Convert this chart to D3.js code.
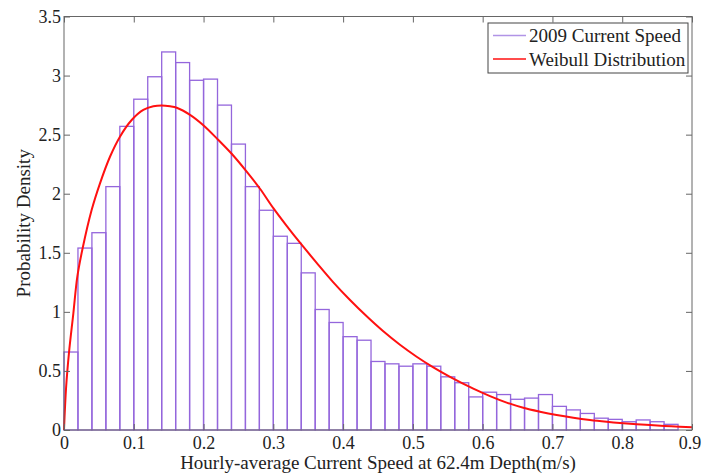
<!DOCTYPE html>
<html>
<head>
<meta charset="utf-8">
<script src="https://cdn.jsdelivr.net/npm/d3@7"></script>
<style>
  html, body { margin: 0; padding: 0; background: #fff; }
  svg text { font-family: "Liberation Serif", "Times New Roman", serif; fill: #222; }
</style>
</head>
<body>
<svg id="chart" width="702" height="476"></svg>
<script>
// Histogram bin edges (left edge of each 0.02 m/s bin)
const binStart = [0.00,0.02,0.04,0.06,0.08,0.10,0.12,0.14,0.16,0.18,0.20,0.22,0.24,0.26,0.28,0.30,
  0.32,0.34,0.36,0.38,0.40,0.42,0.44,0.46,0.48,0.50,0.52,0.54,0.56,0.58,0.60,0.62,0.64,0.66,0.68,
  0.70,0.72,0.74,0.76,0.78,0.80,0.82,0.84,0.86];
const binWidth = 0.02;
// Probability density of 2009 hourly current speed per bin
const density = [0.66,1.54,1.67,2.06,2.57,2.80,2.99,3.20,3.11,2.96,2.97,2.75,2.42,2.06,1.86,1.64,
  1.58,1.33,1.02,0.91,0.79,0.76,0.58,0.56,0.54,0.56,0.54,0.45,0.40,0.28,0.32,0.30,0.26,0.27,0.30,
  0.20,0.17,0.14,0.10,0.09,0.07,0.085,0.07,0.048];

// Fitted Weibull curve, sampled points (speed, density)
const weibullX = [0,0.003,0.0072,0.0134,0.0191,0.0267,0.0396,0.0516,0.0659,0.0802,0.097,0.1137,0.1280,
  0.1400,0.1520,0.1615,0.1806,0.1997,0.2212,0.2403,0.2618,0.2809,0.300,0.3191,0.3382,0.3621,0.386,
  0.4099,0.4338,0.4576,0.4815,0.5054,0.5293,0.5532,0.5866,0.6105,0.6344,0.6582,0.6821,0.706,0.7299,
  0.7538,0.7777,0.7968,0.84,0.87,0.90];
const weibullY = [0,0.36,0.657,0.988,1.298,1.538,1.862,2.088,2.313,2.483,2.624,2.709,2.740,
  2.747,2.740,2.728,2.668,2.580,2.455,2.338,2.187,2.042,1.878,1.728,1.585,1.415,1.250,
  1.100,0.962,0.835,0.721,0.620,0.530,0.450,0.350,0.287,0.232,0.188,0.155,0.127,0.104,
  0.085,0.070,0.060,0.042,0.031,0.023];

const xTicks = [0,0.1,0.2,0.3,0.4,0.5,0.6,0.7,0.8,0.9];
const yTicks = [0,0.5,1,1.5,2,2.5,3,3.5];
const seriesNames = ["2009 Current Speed", "Weibull Distribution"];

const serif = "'Liberation Serif', 'Times New Roman', serif";
const svg = d3.select("#chart");
const plot = { left: 64, right: 692, top: 16.5, bottom: 430 };

const x = d3.scaleLinear().domain([0, 0.9]).range([plot.left, plot.right]);
const y = d3.scaleLinear().domain([0, 3.5]).range([plot.bottom, plot.top]);

const barColor = "#9466dc";
const curveColor = "#ff1010";
const axisColor = "#666";

// Histogram bars (outlined, no fill)
svg.append("g").selectAll("rect")
  .data(binStart.map((b, i) => ({ b, v: density[i] })))
  .join("rect")
  .attr("x", d => x(d.b))
  .attr("y", d => y(d.v))
  .attr("width", d => x(d.b + binWidth) - x(d.b))
  .attr("height", d => y(0) - y(d.v))
  .attr("fill", "none")
  .attr("stroke", barColor)
  .attr("stroke-width", 1.3);

// Weibull curve
const line = d3.line()
  .x(d => x(d[0]))
  .y(d => y(d[1]))
  .curve(d3.curveCatmullRom.alpha(0.5));
svg.append("path")
  .datum(weibullX.map((v, i) => [v, weibullY[i]]))
  .attr("d", line)
  .attr("fill", "none")
  .attr("stroke", curveColor)
  .attr("stroke-width", 2);

// Axes: inward ticks on all four sides, box frame
const tickSize = 6;
const xBottom = d3.axisBottom(x).tickValues(xTicks).tickSizeInner(-tickSize).tickSizeOuter(0)
  .tickPadding(6).tickFormat(d3.format("~g"));
const xTop = d3.axisTop(x).tickValues(xTicks).tickSizeInner(-tickSize).tickSizeOuter(0).tickFormat("");
const yLeft = d3.axisLeft(y).tickValues(yTicks).tickSizeInner(-tickSize).tickSizeOuter(0)
  .tickPadding(3).tickFormat(d3.format("~g"));
const yRight = d3.axisRight(y).tickValues(yTicks).tickSizeInner(-tickSize).tickSizeOuter(0).tickFormat("");

function styleAxis(g) {
  g.attr("font-family", serif).attr("font-size", 18);
  g.select(".domain").remove();
  g.selectAll(".tick line").attr("stroke", axisColor);
  g.selectAll(".tick text").attr("fill", "#222");
}

const gxBottom = svg.append("g").attr("transform", `translate(0,${plot.bottom})`).call(xBottom).call(styleAxis);
// keep the last x tick label inside the canvas edge
gxBottom.selectAll(".tick text").filter(d => d === xTicks[xTicks.length - 1]).attr("dx", -2.5);
svg.append("g").attr("transform", `translate(0,${plot.top})`).call(xTop).call(styleAxis);
svg.append("g").attr("transform", `translate(${plot.left},0)`).call(yLeft).call(styleAxis);
svg.append("g").attr("transform", `translate(${plot.right},0)`).call(yRight).call(styleAxis);

svg.append("rect")
  .attr("x", plot.left).attr("y", plot.top)
  .attr("width", plot.right - plot.left).attr("height", plot.bottom - plot.top)
  .attr("fill", "none").attr("stroke", axisColor).attr("stroke-width", 1);

// Axis titles
svg.append("text")
  .attr("x", (plot.left + plot.right) / 2)
  .attr("y", 469)
  .attr("text-anchor", "middle")
  .attr("font-family", serif)
  .attr("font-size", 19)
  .text("Hourly-average Current Speed at 62.4m Depth(m/s)");

svg.append("text")
  .attr("transform", `translate(30,${(plot.top + plot.bottom) / 2}) rotate(-90)`)
  .attr("text-anchor", "middle")
  .attr("font-family", serif)
  .attr("font-size", 19)
  .text("Probability Density");

// Legend
const legend = svg.append("g").attr("transform", "translate(488,23)");
legend.append("rect")
  .attr("width", 200).attr("height", 50)
  .attr("fill", "#fff").attr("stroke", "#444").attr("stroke-width", 1);
const legendColors = ["#b194e6", curveColor];
seriesNames.forEach((name, i) => {
  const cy = 12.5 + i * 23.5;
  legend.append("line")
    .attr("x1", 5).attr("x2", 38).attr("y1", cy).attr("y2", cy)
    .attr("stroke", legendColors[i]).attr("stroke-width", 1.6);
  legend.append("text")
    .attr("x", 41).attr("y", cy + 6.5)
    .attr("font-family", serif)
    .attr("font-size", 19)
    .text(name);
});
</script>
</body>
</html>
